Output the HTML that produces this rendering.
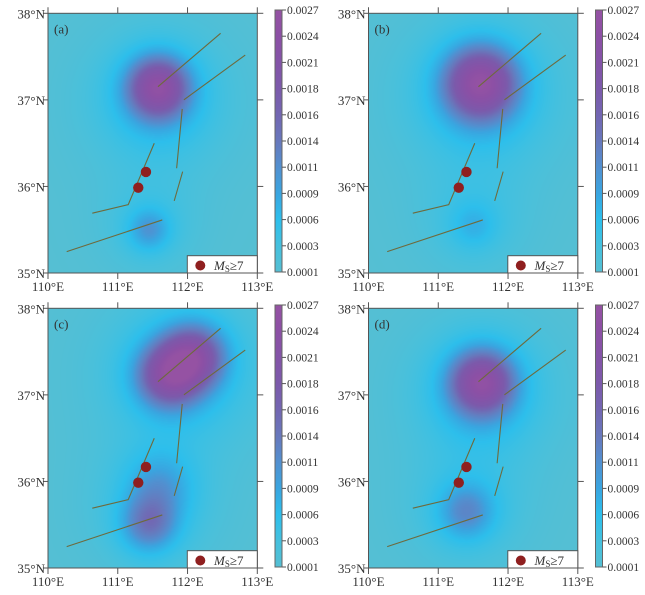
<!DOCTYPE html>
<html><head><meta charset="utf-8">
<style>
body{margin:0;background:#fff;width:645px;height:595px;overflow:hidden;position:relative;font-family:"Liberation Serif",serif;}
canvas{position:absolute;}
svg{position:absolute;left:0;top:0;}
</style></head>
<body>
<canvas id="c0" width="210" height="260"></canvas>
<canvas id="c1" width="210" height="260"></canvas>
<canvas id="c2" width="210" height="260"></canvas>
<canvas id="c3" width="210" height="260"></canvas>
<svg id="ov" width="645" height="595"></svg>
<script>
// ---- data ----
const panelLabels = ["(a)","(b)","(c)","(d)"];
const lonTicks = [110,111,112,113];
const latTicks = [35,36,37,38];
const cbarTicks = [0.0001,0.0003,0.0006,0.0009,0.0011,0.0014,0.0016,0.0018,0.0021,0.0024,0.0027];
const cbarColors = ["#55bfd3","#45c0de","#2dbfec","#3aa5e0","#5290d0","#6878bc","#7366b2","#7c5aab","#8454a8","#8c50a5","#9552a3"];
const baseValue = 0.0001;
// blobs: [lon, lat, amplitude, sigma(px)]
const blobsA = [[111.58,37.15,0.0017,21],[111.58,37.05,0.0005,34],[111.58,36.95,0.0003,55],[111.45,35.5,0.0007,15],[111.45,35.55,0.00025,35]];
const blobsB = [[111.6,37.2,0.0018,25],[111.6,37.1,0.0005,38],[111.6,37.0,0.0003,60],[111.5,35.55,0.0004,16],[111.5,35.6,0.00025,38]];
const blobsC = [[111.72,37.22,0.0015,22],[112.1,37.45,0.0015,22],[111.9,37.3,0.0004,40],[111.9,37.2,0.0003,60],[111.45,35.5,0.0010,20],[111.6,35.95,0.0006,24],[111.5,35.7,0.0003,45]];
const blobsD = [[111.62,37.15,0.0017,22],[111.62,37.05,0.0005,35],[111.62,37.0,0.0003,55],[111.4,35.65,0.0008,20],[111.4,35.7,0.0003,42]];
const faults = [
 [[111.576,37.152],[112.474,37.769]],
 [[111.948,37.0],[112.827,37.518]],
 [[111.924,36.895],[111.844,36.210]],
 [[111.930,36.171],[111.809,35.833]],
 [[111.523,36.499],[111.150,35.790],[110.635,35.691]],
 [[110.268,35.247],[111.638,35.613]]
];
const quakes = [[111.404,36.167],[111.294,35.986]];
// ---- layout ----
const offsets=[[0,0],[320.5,0],[0,295],[320.5,295]];
const MX=48,MY=13.3,MW=209.3,MH=259.7;
function xs(lon){return (lon-110)/3*MW;}
function ys(lat){return (38-lat)/3*MH;}
function hex(h){return [parseInt(h.substr(1,2),16),parseInt(h.substr(3,2),16),parseInt(h.substr(5,2),16)];}
const cc=cbarColors.map(hex);
function colorFor(v){
 if(v<=cbarTicks[0])return cc[0];
 for(let i=1;i<cbarTicks.length;i++){
  if(v<=cbarTicks[i]){const t=(v-cbarTicks[i-1])/(cbarTicks[i]-cbarTicks[i-1]);
   return cc[i-1].map((c,k)=>c+(cc[i][k]-c)*t);}
 }
 return cc[cc.length-1];
}
const allBlobs=[blobsA,blobsB,blobsC,blobsD];
allBlobs.forEach((blobs,p)=>{
 const cv=document.getElementById('c'+p);
 cv.style.left=(offsets[p][0]+MX)+'px';cv.style.top=(offsets[p][1]+MY)+'px';
 cv.style.width=MW+'px';cv.style.height=MH+'px';
 const ctx=cv.getContext('2d');const img=ctx.createImageData(210,260);
 for(let y=0;y<260;y++)for(let x=0;x<210;x++){
  let v=baseValue;
  blobs.forEach(b=>{const dx=x-xs(b[0]),dy=y-ys(b[1]);v+=b[2]*Math.exp(-(dx*dx+dy*dy)/(2*b[3]*b[3]));});
  const c=colorFor(v);const i=(y*210+x)*4;
  img.data[i]=c[0];img.data[i+1]=c[1];img.data[i+2]=c[2];img.data[i+3]=255;
 }
 ctx.putImageData(img,0,0);
});
const NS='http://www.w3.org/2000/svg';
const ov=document.getElementById('ov');
function mk(tag,attrs,parent){const e=document.createElementNS(NS,tag);for(const k in attrs)e.setAttribute(k,attrs[k]);(parent||ov).appendChild(e);return e;}
const defs=mk('defs',{});
const lg=mk('linearGradient',{id:'cbg',x1:0,y1:1,x2:0,y2:0},defs);
cbarColors.forEach((c,i)=>mk('stop',{offset:(i/(cbarColors.length-1)),'stop-color':c},lg));
offsets.forEach((o,p)=>{
 const g=mk('g',{transform:`translate(${o[0]},${o[1]})`});
 
 
 const frame=mk('rect',{x:MX,y:MY,width:MW,height:MH,fill:'none',stroke:'#555','stroke-width':1},g);
 
 
 lonTicks.forEach(l=>{
  const x=MX+xs(l);
  mk('line',{x1:x,y1:MY,x2:x,y2:MY-6,stroke:'#555'},g);
  mk('line',{x1:x,y1:MY+MH,x2:x,y2:MY+MH+6,stroke:'#555'},g);
  const t=mk('text',{x:x,y:MY+MH+18,'text-anchor':'middle','font-size':13,fill:'#333'},g);
  t.textContent=l+'°E';
  
  
 });
 latTicks.forEach(l=>{
  const y=MY+ys(l);
  mk('line',{x1:MX,y1:y,x2:MX-5,y2:y,stroke:'#555'},g);
  mk('line',{x1:MX+MW,y1:y,x2:MX+MW+6,y2:y,stroke:'#555'},g);
  const t=mk('text',{x:MX-3,y:y+5,'text-anchor':'end','font-size':13,fill:'#333'},g);
  t.textContent=l+'°N';
  
  
 });
 const pl=mk('text',{x:MX+6,y:MY+20,'font-size':13,fill:'#333'},g);
 pl.textContent=panelLabels[p];
 
 
 faults.forEach(f=>{
  const fl=mk('polyline',{points:f.map(q=>(MX+xs(q[0]))+','+(MY+ys(q[1]))).join(' '),fill:'none',stroke:'#6e6a3c','stroke-width':1.1},g);
  
  
 });
 quakes.forEach(q=>{
  const c=mk('circle',{cx:MX+xs(q[0]),cy:MY+ys(q[1]),r:5.2,fill:'#8f1f1f'},g);
  
  
 });
 const lgd=mk('g',{},g);
 
 
 mk('rect',{x:187.3,y:255.7,width:MX+MW-187.3,height:MY+MH-255.7,fill:'#fff',stroke:'#555','stroke-width':1},lgd);
 mk('circle',{cx:200.3,cy:265.5,r:5,fill:'#8f1f1f'},lgd);
 const lt=mk('text',{x:214,y:270,'font-size':13,fill:'#333'},lgd);
 lt.innerHTML='<tspan font-style="italic">M</tspan><tspan font-size="9" dy="2">S</tspan><tspan dy="-2">≥7</tspan>';
 const cb=mk('g',{},g);
 
 
 const cy0=10,cy1=272;
 mk('rect',{x:275,y:cy0,width:7,height:cy1-cy0,fill:'url(#cbg)',stroke:'#666','stroke-width':1},cb);
 cbarTicks.forEach((v,i)=>{
  const y=cy1-i*(cy1-cy0)/(cbarTicks.length-1);
  mk('line',{x1:282,y1:y,x2:286,y2:y,stroke:'#555'},cb);
  const t=mk('text',{x:287,y:y+4,'font-size':11.5,fill:'#333'},cb);
  t.textContent=v.toFixed(4);
  
  
 });
});
</script>
</body></html>
